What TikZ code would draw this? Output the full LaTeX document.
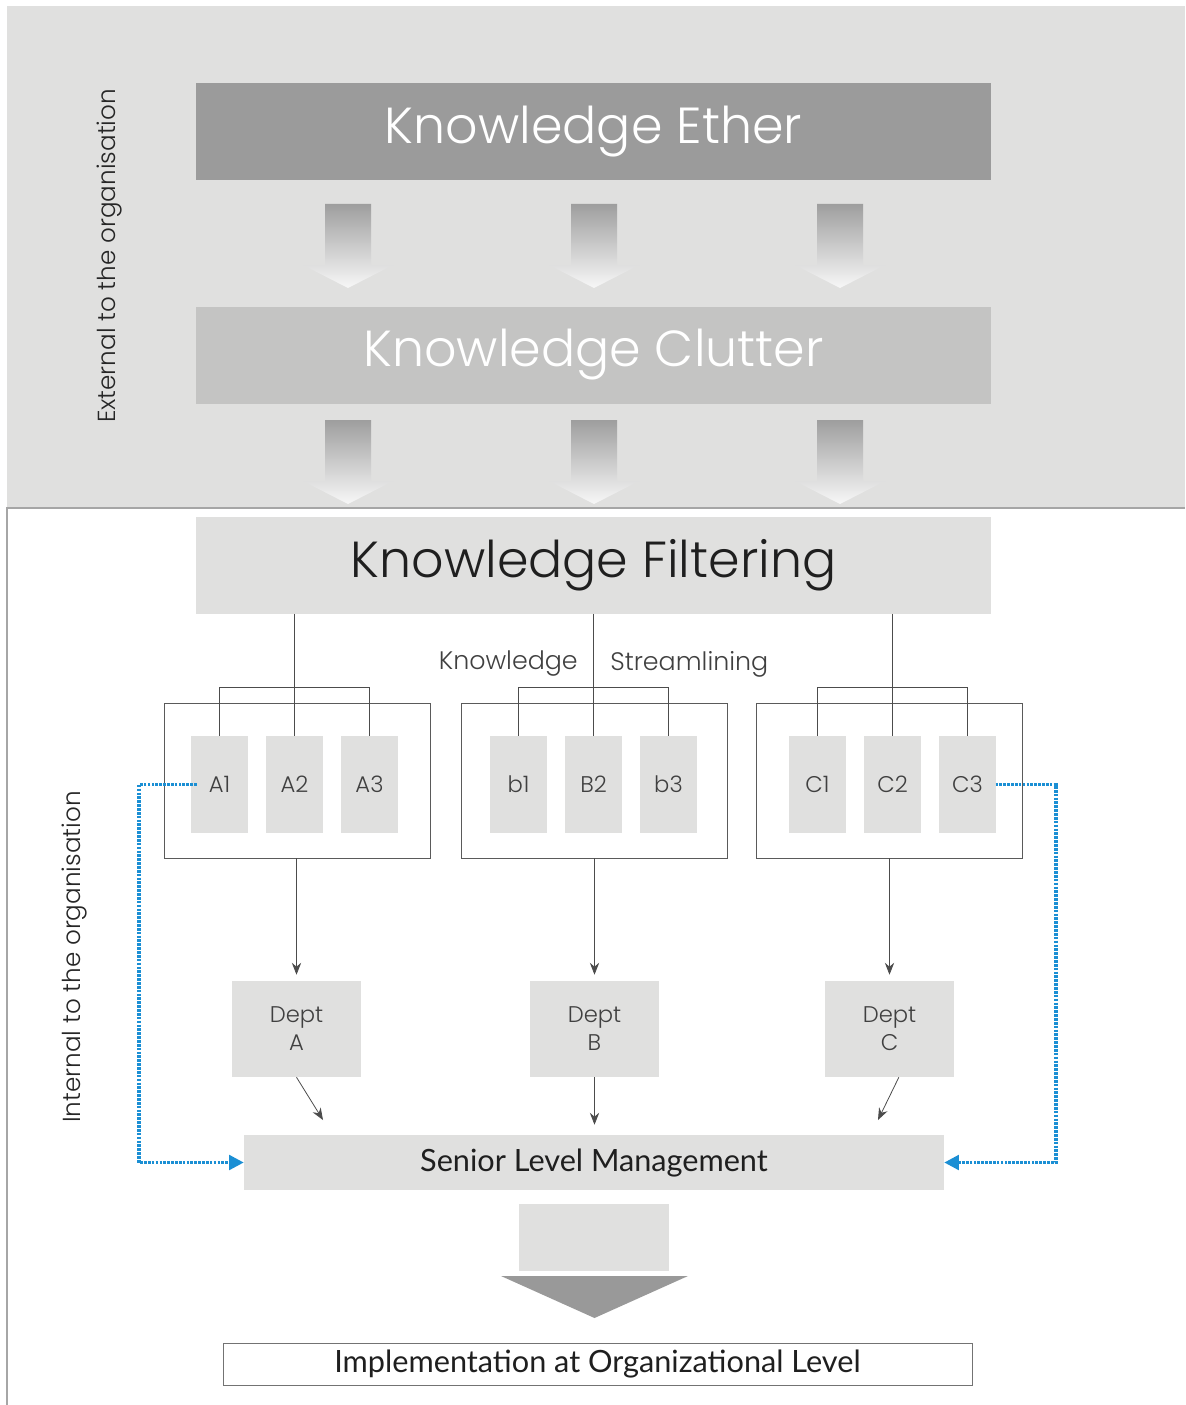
\documentclass[tikz,border=0pt]{standalone}
\usepackage{fontspec}
\setmainfont{Poppins}[UprightFont=* Light]
\newfontfamily\gillfont{Lato}
\usetikzlibrary{arrows.meta}

\definecolor{outergray}{RGB}{224,224,223}
\definecolor{ethergray}{RGB}{155,155,155}
\definecolor{cluttergray}{RGB}{196,196,195}
\definecolor{boxgray}{RGB}{224,224,223}
\definecolor{feedblue}{RGB}{27,143,212}
\definecolor{framegray}{RGB}{90,90,90}

\begin{document}
\begin{tikzpicture}[x=0.75pt,y=0.75pt,yscale=-1,xscale=1,
  band/.style={inner sep=0pt, minimum width=795*0.75pt, minimum height=97*0.75pt, font=\fontsize{38}{40}\selectfont},
  member/.style={fill=boxgray, inner sep=0pt, minimum width=57*0.75pt, minimum height=97*0.75pt, text=black!75, font=\fontsize{17}{20}\selectfont},
  group/.style={draw=framegray, line width=0.6pt, inner sep=0pt, minimum width=266*0.75pt, minimum height=155*0.75pt},
  dept/.style={fill=boxgray, inner sep=0pt, minimum width=129*0.75pt, minimum height=96*0.75pt, align=center, text=black!75, font=\fontsize{17}{21}\selectfont},
  link/.style={draw=black!70, line width=0.6pt},
  push/.style={link, -{Stealth[length=9pt,width=7pt,inset=3pt]}},
  feed/.style={draw=feedblue, line width=2.4pt, dash pattern={on 2pt off 0.9pt}, -{Triangle[length=11pt,width=11pt]}},
  side/.style={rotate=90, inner sep=0pt, font=\fontsize{18.5}{20}\selectfont, text=black!85},
]
\useasboundingbox (0,0) rectangle (1185,1405);

% outside / inside areas
\fill[outergray] (7,6) rectangle (1185,508);
\draw[black!35, line width=1.5pt] (7,1405) -- (7,508) -- (1185,508);

% Text Node
\node[side] (extlabel) at (110,256) {External to the organisation};
% Text Node
\node[side] (intlabel) at (75,957) {Internal to the organisation};

% the three knowledge bands
\node[band, fill=ethergray, text=white] (ether) at (593.5,131.5) {Knowledge Ether};
\node[band, fill=cluttergray, text=white] (clutter) at (593.5,355) {Knowledge Clutter};
\node[band, fill=boxgray, text=black!88] (filter) at (593.5,565) {Knowledge Filtering};

% faded arrows between the bands
\foreach \c in {348,594,840}
  \foreach \t in {204,420}
    \shade[top color=black!38, bottom color=black!3]
      ({\c-23},\t) -- ({\c+23},\t) -- ({\c+23},{\t+61}) -- ({\c+45},{\t+61})
      -- (\c,{\t+84}) -- ({\c-45},{\t+61}) -- ({\c-23},{\t+61}) -- cycle;

% Text Node
\node[anchor=east, inner sep=0pt, text=black!75, font=\fontsize{19}{22}\selectfont] (kwlabel) at (578,664) {Knowledge};
% Text Node
\node[anchor=west, inner sep=0pt, text=black!75, font=\fontsize{19}{22}\selectfont] (stlabel) at (610,664) {Streamlining};

% departmental groups
\node[group] (grpA) at (297,780.5) {};
\node[group] (grpB) at (594,780.5) {};
\node[group] (grpC) at (889.5,780.5) {};

\node[member] (A1) at (219.5,784.5) {A1};
\node[member] (A2) at (294.5,784.5) {A2};
\node[member] (A3) at (369.5,784.5) {A3};
\node[member] (b1) at (518.5,784.5) {b1};
\node[member] (B2) at (593.5,784.5) {B2};
\node[member] (b3) at (668.5,784.5) {b3};
\node[member] (C1) at (817.5,784.5) {C1};
\node[member] (C2) at (892.5,784.5) {C2};
\node[member] (C3) at (967.5,784.5) {C3};

% streamlining branches
\draw[link] (filter.south -| A2.north) -- (A2.north);
\draw[link] (A1.north) -- ++(0,-48) -| (A3.north);
\draw[link] (filter.south -| B2.north) -- (B2.north);
\draw[link] (b1.north) -- ++(0,-48) -| (b3.north);
\draw[link] (filter.south -| C2.north) -- (C2.north);
\draw[link] (C1.north) -- ++(0,-48) -| (C3.north);

% departments
\node[dept] (deptA) at (296.5,1029) {Dept\\A};
\node[dept] (deptB) at (594.5,1029) {Dept\\B};
\node[dept] (deptC) at (889.5,1029) {Dept\\C};

\draw[push, shorten >=4.5pt] (deptA.north |- grpA.south) -- (deptA.north);
\draw[push, shorten >=4.5pt] (deptB.north |- grpB.south) -- (deptB.north);
\draw[push, shorten >=4.5pt] (deptC.north |- grpC.south) -- (deptC.north);

\node[fill=boxgray, inner sep=0pt, minimum width=700*0.75pt, minimum height=55*0.75pt, text=black!88, font=\gillfont\fontsize{23}{26}\selectfont] (senior) at (594,1162.5) {Senior Level Management};

\coordinate (inA) at (323,1120);
\coordinate (inC) at (878,1120);
\draw[push] (deptA.south) -- (inA);
\draw[push, shorten >=7.5pt] (deptB.south) -- (deptB.south |- senior.north);
\draw[push] ([xshift=7pt]deptC.south) -- (inC);

% feedback straight to senior management
\coordinate (loopL) at (139,1162.5);
\coordinate (loopR) at (1056,1162.5);
\draw[feed] ([xshift=4.5pt]A1.west) -| (loopL) -- (senior.west);
\draw[feed] ([xshift=-0.5pt]C3.east) -| (loopR) -- (senior.east);

% big arrow down to implementation
\node[fill=boxgray, inner sep=0pt, minimum width=150*0.75pt, minimum height=67*0.75pt] (stem) at (594,1237.5) {};
\fill[black!40] (501,1276) -- (688,1276) -- (594.5,1318) -- cycle;

\node[draw=black!55, fill=white, inner sep=0pt, minimum width=749*0.75pt, minimum height=42*0.75pt, text=black!88, font=\gillfont\fontsize{23}{26}\selectfont] (impl) at (597.5,1364) {Implementation at Organizational Level};
\end{tikzpicture}
\end{document}
